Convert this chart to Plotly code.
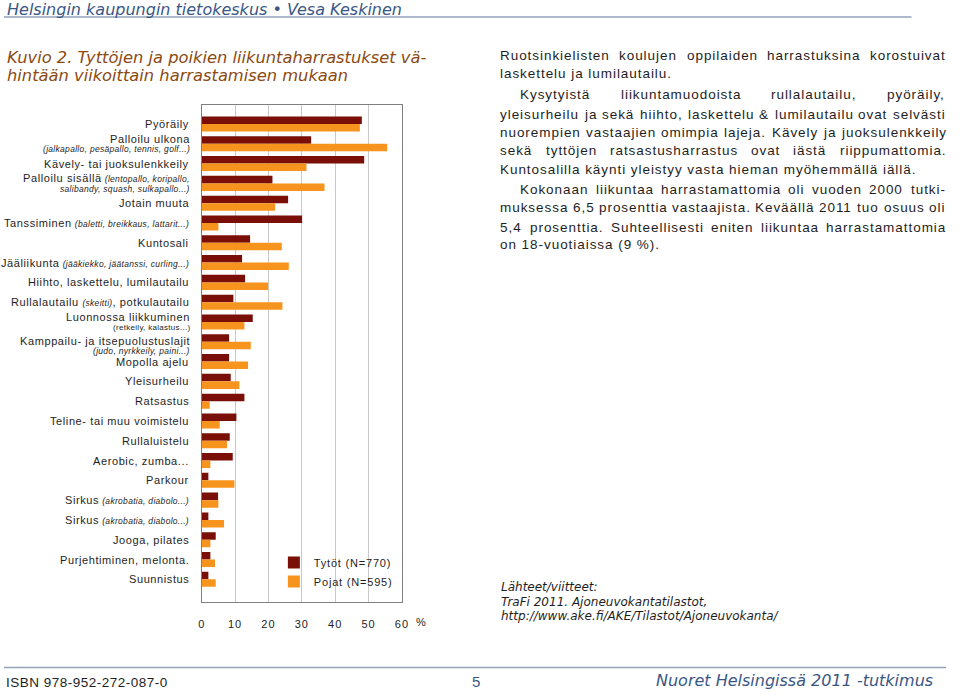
import plotly.graph_objects as go

# ---------------- data ----------------
categories = [
    "Pyöräily",
    "Palloilu ulkona",
    "Kävely- tai juoksulenkkeily",
    "Palloilu sisällä",
    "Jotain muuta",
    "Tanssiminen",
    "Kuntosali",
    "Jääliikunta",
    "Hiihto, laskettelu, lumilautailu",
    "Rullalautailu",
    "Luonnossa liikkuminen",
    "Kamppailu- ja itsepuolustuslajit",
    "Mopolla ajelu",
    "Yleisurheilu",
    "Ratsastus",
    "Teline- tai muu voimistelu",
    "Rullaluistelu",
    "Aerobic, zumba...",
    "Parkour",
    "Sirkus",
    "Sirkus",
    "Jooga, pilates",
    "Purjehtiminen, melonta.",
    "Suunnistus",
]
# italic explanatory notes: (same line note, second line note)
notes_inline = {
    3: "(lentopallo, koripallo,",
    5: "(baletti, breikkaus, lattarit...)",
    7: "(jääkiekko, jäätanssi, curling...)",
    19: "(akrobatia, diabolo...)",
    20: "(akrobatia, diabolo...)",
}
notes_second = {
    1: ("(jalkapallo, pesäpallo, tennis, golf...)", True),
    3: ("salibandy, squash, sulkapallo...)", True),
    10: ("(retkeily, kalastus...)", False),
    11: ("(judo, nyrkkeily, paini...)", True),
}
girls = [48.0, 32.8, 48.7, 21.2, 25.9, 30.1, 14.5, 12.1, 13.0, 9.5, 15.3, 8.2,
         8.2, 8.7, 12.8, 10.4, 8.4, 9.3, 2.0, 4.9, 2.0, 4.2, 2.6, 2.0]
boys = [47.4, 55.6, 31.4, 36.8, 22.0, 5.0, 24.0, 26.1, 19.9, 24.2, 12.8, 14.7,
        13.9, 11.3, 2.4, 5.4, 7.6, 2.6, 9.8, 5.0, 6.7, 2.6, 4.0, 4.2]
series_names = ["Tytöt (N=770)", "Pojat (N=595)"]
x_ticks = [0, 10, 20, 30, 40, 50, 60]

header_text = "Helsingin kaupungin tietokeskus • Vesa Keskinen"
title_lines = ["Kuvio 2. Tyttöjen ja poikien liikuntaharrastukset vä-",
               "hintään viikoittain harrastamisen mukaan"]
paragraphs = [
    ["Ruotsinkielisten koulujen oppilaiden harrastuksina korostuivat",
     "laskettelu ja lumilautailu."],
    ["Kysytyistä liikuntamuodoista rullalautailu, pyöräily,",
     "yleisurheilu ja sekä hiihto, laskettelu & lumilautailu ovat selvästi",
     "nuorempien vastaajien omimpia lajeja. Kävely ja juoksulenkkeily",
     "sekä tyttöjen ratsastusharrastus ovat iästä riippumattomia.",
     "Kuntosalilla käynti yleistyy vasta hieman myöhemmällä iällä."],
    ["Kokonaan liikuntaa harrastamattomia oli vuoden 2000 tutki-",
     "muksessa 6,5 prosenttia vastaajista. Keväällä 2011 tuo osuus oli",
     "5,4 prosenttia. Suhteellisesti eniten liikuntaa harrastamattomia",
     "on 18-vuotiaissa (9 %)."],
]
sources = ["Lähteet/viitteet:", "TraFi 2011. Ajoneuvokantatilastot,",
           "http://www.ake.fi/AKE/Tilastot/Ajoneuvokanta/"]
isbn_text = "ISBN 978-952-272-087-0"
page_no = "5"
footer_right = "Nuoret Helsingissä 2011 -tutkimus"

# ---------------- styles ----------------
W, H = 960, 694
DARK = "#7a0f08"
ORANGE = "#f7941d"
TXT = "#1e1e1e"
BLUE = "#3a5785"
BROWN = "#8a4a12"
RULE = "#93a3ba"
SANS = "Liberation Sans, Arial, sans-serif"
VERD = "DejaVu Sans, Verdana, sans-serif"


def px(x):
    return x / W


def py(y):
    return 1 - y / H


def ls(text, spacing):
    return f'<span style="letter-spacing:{spacing}px">{text}</span>'


ARIAL = {" ": 278, "a": 556, "b": 556, "c": 500, "d": 556, "e": 556, "f": 278, "g": 556,
         "h": 556, "i": 222, "j": 222, "k": 500, "l": 222, "m": 833, "n": 556, "o": 556,
         "p": 556, "q": 556, "r": 333, "s": 500, "t": 278, "u": 556, "v": 500, "w": 722,
         "x": 500, "y": 500, "z": 500, "ä": 556, "ö": 556, "å": 556, "A": 667, "B": 667,
         "C": 722, "D": 722, "E": 667, "F": 611, "G": 778, "H": 722, "I": 278, "J": 500,
         "K": 667, "L": 556, "M": 833, "N": 722, "O": 778, "P": 667, "R": 722, "S": 667,
         "T": 611, "U": 722, "V": 667, "W": 944, "Y": 667, ".": 278, ",": 278, "-": 333,
         "%": 889, "(": 333, ")": 333, "&": 667, "/": 278, ":": 278}


def text_w(s, size, spacing):
    return sum(ARIAL.get(c, 556) for c in s) * size / 1000 + len(s) * spacing


fig = go.Figure()
idx = list(range(len(categories)))
fig.add_trace(go.Bar(y=idx, x=girls, orientation="h", name=ls(series_names[0], 0.8),
                     marker=dict(color=DARK, line=dict(width=0))))
fig.add_trace(go.Bar(y=idx, x=boys, orientation="h", name=ls(series_names[1], 0.8),
                     marker=dict(color=ORANGE, line=dict(width=0))))

annotations = []

# category labels (placed on the y scale)
LBL_X = px(189)
two_line_shift = {1: (5, -5.5), 3: (5, -5.5), 10: (5, -6), 11: (0.5, -9)}
for i, name in enumerate(categories):
    main = ls(name, 0.6)
    if i == 9:
        main = ls("Rullalautailu ", 0.6) + '<span style="font-size:8.5px;letter-spacing:0.3px"><i>(skeitti)</i></span>' + ls(", potkulautailu", 0.6)
    if i in notes_inline:
        main += ' <span style="font-size:8.5px;letter-spacing:0.3px"><i>' + notes_inline[i] + "</i></span>"
    if i in notes_second:
        note, ital = notes_second[i]
        note_txt = f"<i>{note}</i>" if ital else note
        s1, s2 = two_line_shift[i]
        annotations.append(dict(x=LBL_X, xref="paper", y=i, yref="y", yshift=s1,
                                text=main, showarrow=False, xanchor="right", yanchor="middle",
                                borderpad=0,
                                font=dict(family=SANS, size=11, color=TXT)))
        annotations.append(dict(x=LBL_X, xref="paper", y=i, yref="y", yshift=s2,
                                text=ls(note_txt, 0.3), showarrow=False, xanchor="right",
                                yanchor="middle", borderpad=0,
                                font=dict(family=SANS, size=8 if not ital else 8.5, color=TXT)))
    else:
        annotations.append(dict(x=LBL_X, xref="paper", y=i, yref="y",
                                text=main, showarrow=False, xanchor="right", yanchor="middle",
                                font=dict(family=SANS, size=11, color=TXT)))

# percent sign after x tick labels
annotations.append(dict(x=px(422), y=py(622), xref="paper", yref="paper", text="%",
                        showarrow=False, xanchor="center", yanchor="middle",
                        font=dict(family=SANS, size=11, color=TXT)))

# header / title
annotations.append(dict(x=px(1), y=py(9), xref="paper", yref="paper", text=f"<i>{header_text}</i>",
                        showarrow=False, xanchor="left", yanchor="middle",
                        font=dict(family=VERD, size=16, color=BLUE)))
for k, t in enumerate(title_lines):
    annotations.append(dict(x=px(1), y=py(57 + 18.5 * k), xref="paper", yref="paper",
                            text=f"<i>{t}</i>", showarrow=False, xanchor="left",
                            yanchor="middle", font=dict(family=VERD, size=16.3, color=BROWN)))

# body text, justified (every word left-anchored at its computed position)
BODY_SIZE = 13.5
BODY_LS = 0.95
LEFT, RIGHT = 502, 952
line_y = [55.5, 73.5, 95, 114, 132, 151, 170, 189, 208, 227, 245]
li = 0
for p_i, para in enumerate(paragraphs):
    for l_i, line in enumerate(para):
        y = py(line_y[li])
        li += 1
        x0 = LEFT + (20 if (p_i > 0 and l_i == 0) else 0)
        last = l_i == len(para) - 1
        words = line.split(" ")
        if last or len(words) == 1:
            annotations.append(dict(x=px(x0), y=y, xref="paper", yref="paper",
                                    text=ls(line, BODY_LS), showarrow=False, xanchor="left",
                                    yanchor="middle", borderpad=0, borderwidth=0,
                                    font=dict(family=SANS, size=BODY_SIZE, color=TXT)))
            continue
        widths = [text_w(w, BODY_SIZE, BODY_LS) for w in words]
        gap = (RIGHT - x0 - sum(widths)) / (len(words) - 1)
        cx = x0
        for w, wd in zip(words, widths):
            annotations.append(dict(x=px(cx), y=y, xref="paper", yref="paper",
                                    text=ls(w, BODY_LS), showarrow=False, xanchor="left",
                                    yanchor="middle", borderpad=0, borderwidth=0,
                                    font=dict(family=SANS, size=BODY_SIZE, color=TXT)))
            cx += wd + gap

# sources
for k, t in enumerate(sources):
    annotations.append(dict(x=px(501), y=py(587 + 14.5 * k), xref="paper", yref="paper",
                            text=f"<i>{t}</i>", showarrow=False, xanchor="left", yanchor="middle",
                            font=dict(family=VERD, size=12, color=TXT)))

# footer
annotations.append(dict(x=px(2), y=py(682), xref="paper", yref="paper", text=ls(isbn_text, 0.5),
                        showarrow=False, xanchor="left", yanchor="middle", borderpad=0,
                        borderwidth=0, font=dict(family=SANS, size=13.5, color=TXT)))
annotations.append(dict(x=px(477), y=py(681), xref="paper", yref="paper", text=page_no,
                        showarrow=False, xanchor="center", yanchor="middle",
                        font=dict(family=SANS, size=15, color=BLUE)))
annotations.append(dict(x=px(942), y=py(680), xref="paper", yref="paper",
                        text=f"<i>{footer_right}</i>", showarrow=False, xanchor="right",
                        yanchor="middle", font=dict(family=VERD, size=16, color=BLUE)))

shapes = [
    dict(type="line", xref="paper", yref="paper", x0=0, x1=px(918), y0=py(17), y1=py(17),
         line=dict(color=RULE, width=1.5)),
    dict(type="line", xref="paper", yref="paper", x0=0, x1=px(953), y0=py(667.5), y1=py(667.5),
         line=dict(color=RULE, width=1.5)),
]

fig.update_layout(
    width=W, height=H,
    margin=dict(l=0, r=0, t=0, b=0),
    paper_bgcolor="white", plot_bgcolor="white",
    barmode="group", bargap=0.24, bargroupgap=0,
    showlegend=True,
    legend=dict(x=px(273), y=py(548), xanchor="left", yanchor="top",
                bgcolor="rgba(0,0,0,0)", font=dict(family=SANS, size=11, color=TXT),
                tracegroupgap=0, traceorder="normal"),
    xaxis=dict(domain=[px(200), px(402.5)], range=[0, 60], tickvals=x_ticks,
               ticktext=[ls(str(v), 1) for v in x_ticks], showgrid=True,
               gridcolor="#c9c9c9", gridwidth=1, zeroline=False, showline=True,
               linecolor="#7f7f7f", linewidth=1.3, mirror=True, ticks="",
               ticklabelstandoff=12, tickfont=dict(family=SANS, size=11, color=TXT)),
    yaxis=dict(domain=[py(601.7), py(105)], range=[24.13, -0.96], showticklabels=False,
               showgrid=False, zeroline=False, showline=True, linecolor="#7f7f7f",
               linewidth=1.3, mirror=True, ticks=""),
    annotations=annotations,
    shapes=shapes,
    font=dict(family=SANS, color=TXT),
)

fig.write_html("out.html", config={"displayModeBar": False},
               post_script="document.body.style.margin='0';document.body.style.padding='0';")
